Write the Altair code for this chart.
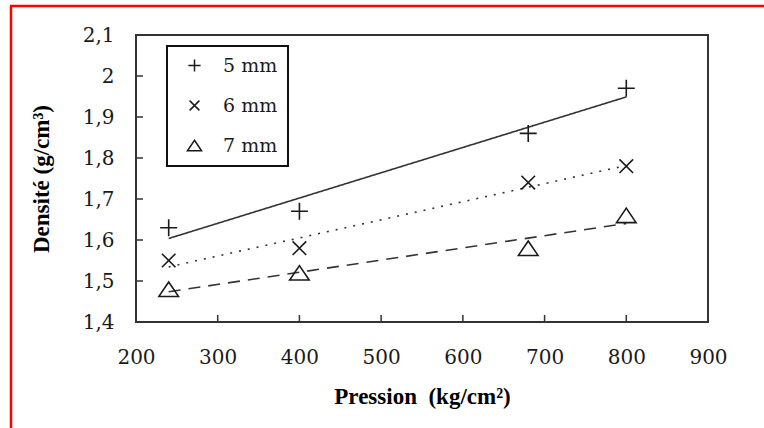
import altair as alt
import pandas as pd

# ---- data ----
pression = [240, 400, 680, 800]
dens_5mm = [1.63, 1.67, 1.86, 1.97]
dens_6mm = [1.55, 1.58, 1.74, 1.78]
dens_7mm = [1.48, 1.52, 1.58, 1.66]
series = ["5 mm", "6 mm", "7 mm"]
x_ticks = [200, 300, 400, 500, 600, 700, 800, 900]
y_ticks = [1.4, 1.5, 1.6, 1.7, 1.8, 1.9, 2.0, 2.1]
x_inner_ticks = [300, 400, 500, 600, 700, 800]
y_inner_ticks = [1.5, 1.6, 1.7, 1.8, 1.9, 2.0]

rows = []
for s, vals in zip(series, [dens_5mm, dens_6mm, dens_7mm]):
    for p, v in zip(pression, vals):
        rows.append({"pression": p, "densite": v, "serie": s})
df = pd.DataFrame(rows)
df_xt = pd.DataFrame({"t": x_inner_ticks})
df_yt = pd.DataFrame({"t": y_inner_ticks})

W, H = 572, 287
INK = "#1a1a1a"
label_expr = "replace(format(datum.value, '.2~f'), '.', ',')"

xs = alt.Scale(domain=[200, 900], nice=False, zero=False)
ys = alt.Scale(domain=[1.4, 2.1], nice=False, zero=False)

x_enc = alt.X("pression:Q", scale=xs, axis=alt.Axis(
    values=x_ticks, title="Pression\u00a0 (kg/cm²)", ticks=False, tickSize=0,
    domain=False, grid=False, labelFlush=False, labelFont="DejaVu Serif",
    labelFontSize=20, labelColor=INK, labelPadding=25,
    titleFont="Liberation Serif", titleFontWeight="bold", titleFontSize=23,
    titleColor="black", titlePadding=18))
y_enc = alt.Y("densite:Q", scale=ys, axis=alt.Axis(
    values=y_ticks, title="Densité (g/cm³)", ticks=False, tickSize=0,
    domain=False, grid=False, labelFlush=False, labelFont="DejaVu Serif",
    labelFontSize=20, labelColor=INK, labelPadding=22, labelExpr=label_expr,
    titleFont="Liberation Serif", titleFontWeight="bold", titleFontSize=23,
    titleColor="black", titlePadding=29))

shape_paths = [
    "M-1,0L1,0M0,-1L0,1",
    "M-0.8,-0.8L0.8,0.8M-0.8,0.8L0.8,-0.8",
    "M0,-0.85L1.15,0.85L-1.15,0.85Z",
]

lines = alt.Chart(df).transform_regression(
    "pression", "densite", groupby=["serie"]
).mark_line(color="#333333", strokeWidth=1.6).encode(
    x=x_enc, y=y_enc,
    strokeDash=alt.StrokeDash("serie:N", legend=None, sort="ascending",
                              scale=alt.Scale(range=[[1, 0], [2, 7], [12, 8]])),
)

points = alt.Chart(df).mark_point(
    filled=False, stroke=INK, strokeWidth=1.6, size=289, opacity=1
).encode(
    x=x_enc, y=y_enc,
    shape=alt.Shape("serie:N", scale=alt.Scale(domain=series, range=shape_paths),
                    legend=alt.Legend(
                        title=None, orient="none", legendX=31, legendY=11,
                        strokeColor="#111111", padding=10, symbolOffset=8,
                        symbolSize=150, symbolStrokeColor=INK,
                        symbolFillColor="transparent", symbolStrokeWidth=1.5,
                        labelFont="DejaVu Serif", labelFontSize=19,
                        labelColor=INK, labelOffset=19, rowPadding=20,
                        labelExpr="datum.label + '\u00a0\u00a0\u00a0'")),
)

xt = alt.Chart(df_xt).mark_rule(color="#333333", strokeWidth=1.5).encode(
    x=alt.X("t:Q", scale=xs), y=alt.value(H), y2=alt.value(H - 7))
yt = alt.Chart(df_yt).mark_rule(color="#333333", strokeWidth=1.5).encode(
    y=alt.Y("t:Q", scale=ys), x=alt.value(0), x2=alt.value(7))

frame_data = alt.Data(values=[{"k": 1}])
red_left = alt.Chart(frame_data).mark_rule(color="#ff0000", strokeWidth=2.5).encode(
    x=alt.value(-125), y=alt.value(-29), y2=alt.value(428 - 35))
red_top = alt.Chart(frame_data).mark_rule(color="#ff0000", strokeWidth=2.5).encode(
    y=alt.value(-29), x=alt.value(-126), x2=alt.value(764 - 136))

chart = alt.layer(red_left, red_top, lines, xt, yt, points).properties(
    width=W, height=H,
    autosize=alt.AutoSizeParams(type="none"),
    padding={"left": 136, "top": 35, "right": 56, "bottom": 106},
    background="white",
).configure_view(stroke="#333333", strokeWidth=2).configure_legend(strokeWidth=2)

chart.save("out.html", embed_options={"renderer": "svg", "actions": False})
